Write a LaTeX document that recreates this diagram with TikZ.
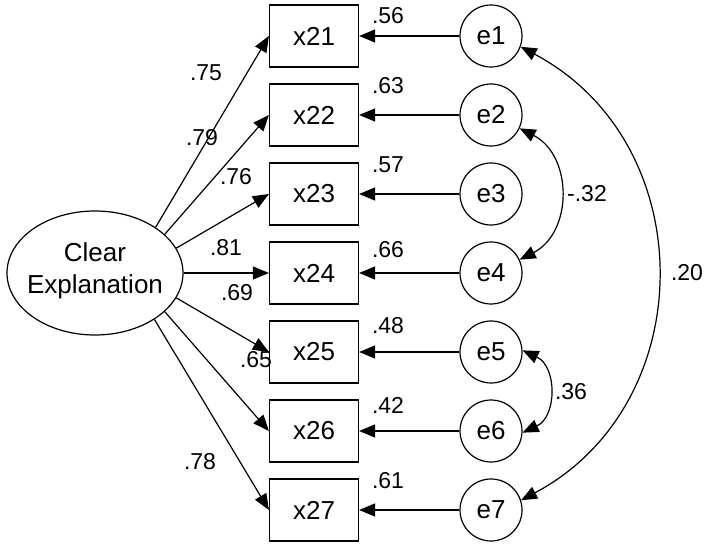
\documentclass[tikz,border=0pt]{standalone}
\usepackage{fontspec}
\setmainfont{Liberation Sans}
\usetikzlibrary{shapes.geometric}
\usetikzlibrary{arrows.meta}

\tikzset{
	item/.style={draw, rectangle, line width=0.6pt, minimum width=44.5pt, minimum height=31pt, inner sep=0pt, font=\fontsize{13}{16}\selectfont},
	err/.style={draw, circle, line width=0.6pt, minimum size=31pt, inner sep=0pt, font=\fontsize{13}{16}\selectfont},
	est/.style={inner sep=0pt, font=\fontsize{11.5}{13}\selectfont},
	arr/.style={line width=0.6pt, -{Triangle[length=8pt,width=6.5pt]}},
	cov/.style={line width=0.6pt, {Triangle[length=8pt,width=6.5pt]}-{Triangle[length=8pt,width=6.5pt]}}
}

\begin{document}
\begin{tikzpicture}[x=0.5pt, y=-0.5pt]
				\useasboundingbox (0,0) rectangle (705,544);

				%Nodes
				\node[draw, ellipse, line width=0.6pt, minimum width=88pt, minimum height=62pt, inner sep=0pt] (ell) at (95,273) {};
				\node[align=center, inner sep=0pt, font=\fontsize{13}{16}\selectfont] (elltext) at (95,271) {Clear\\Explanation};

				\node[item] (x21) at (314,36)  {x21};
				\node[item] (x22) at (314,115) {x22};
				\node[item] (x23) at (314,194) {x23};
				\node[item] (x24) at (314,273) {x24};
				\node[item] (x25) at (314,352) {x25};
				\node[item] (x26) at (314,431) {x26};
				\node[item] (x27) at (314,510) {x27};

				\node[err] (e1) at (491,36)  {e1};
				\node[err] (e2) at (491,115) {e2};
				\node[err] (e3) at (491,194) {e3};
				\node[err] (e4) at (491,273) {e4};
				\node[err] (e5) at (491,352) {e5};
				\node[err] (e6) at (491,431) {e6};
				\node[err] (e7) at (491,510) {e7};

				%Estimates
				\node[est] (l21) at (206,73)  {.75};
				\node[est] (l22) at (202,138) {.79};
				\node[est] (l23) at (236,177) {.76};
				\node[est] (l24) at (226,248) {.81};
				\node[est] (l25) at (237,293) {.69};
				\node[est] (l26) at (256,360) {.65};
				\node[est] (l27) at (200,462) {.78};

				\node[est] (r21) at (388,15.5)  {.56};
				\node[est] (r22) at (388,85.5)  {.63};
				\node[est] (r23) at (388,164.5) {.57};
				\node[est] (r24) at (388,249.5) {.66};
				\node[est] (r25) at (388,325.5) {.48};
				\node[est] (r26) at (388,405.5) {.42};
				\node[est] (r27) at (388,480.5) {.61};

				\node[est] (c24) at (587,194) {-.32};
				\node[est] (c56) at (571,392) {.36};
				\node[est] (c17) at (687,273) {.20};

				%Lines
				\draw[arr] (ell.37)  -- (x21.west);
				\draw[arr] (ell.29)  -- (x22.west);
				\draw[arr] (ell.17)  -- (x23.west);
				\draw[arr] (ell.0)   -- (x24.west);
				\draw[arr] (ell.-17) -- (x25.west);
				\draw[arr] (ell.-29) -- (x26.west);
				\draw[arr] (ell.-38) -- (x27.west);

				\draw[arr] (e1.west) -- (x21.east);
				\draw[arr] (e2.west) -- (x22.east);
				\draw[arr] (e3.west) -- (x23.east);
				\draw[arr] (e4.west) -- (x24.east);
				\draw[arr] (e5.west) -- (x25.east);
				\draw[arr] (e6.west) -- (x26.east);
				\draw[arr] (e7.west) -- (x27.east);

				\draw[cov] (e2.-25) to[bend left=63, looseness=1.17] (e4.25);
				\draw[cov] (e5.3)   to[bend left=65, looseness=1.19] (e6.-3);
				\draw[cov] (e1.-20) to[bend left=62, looseness=1.16] (e7.18);

\end{tikzpicture}
\end{document}
